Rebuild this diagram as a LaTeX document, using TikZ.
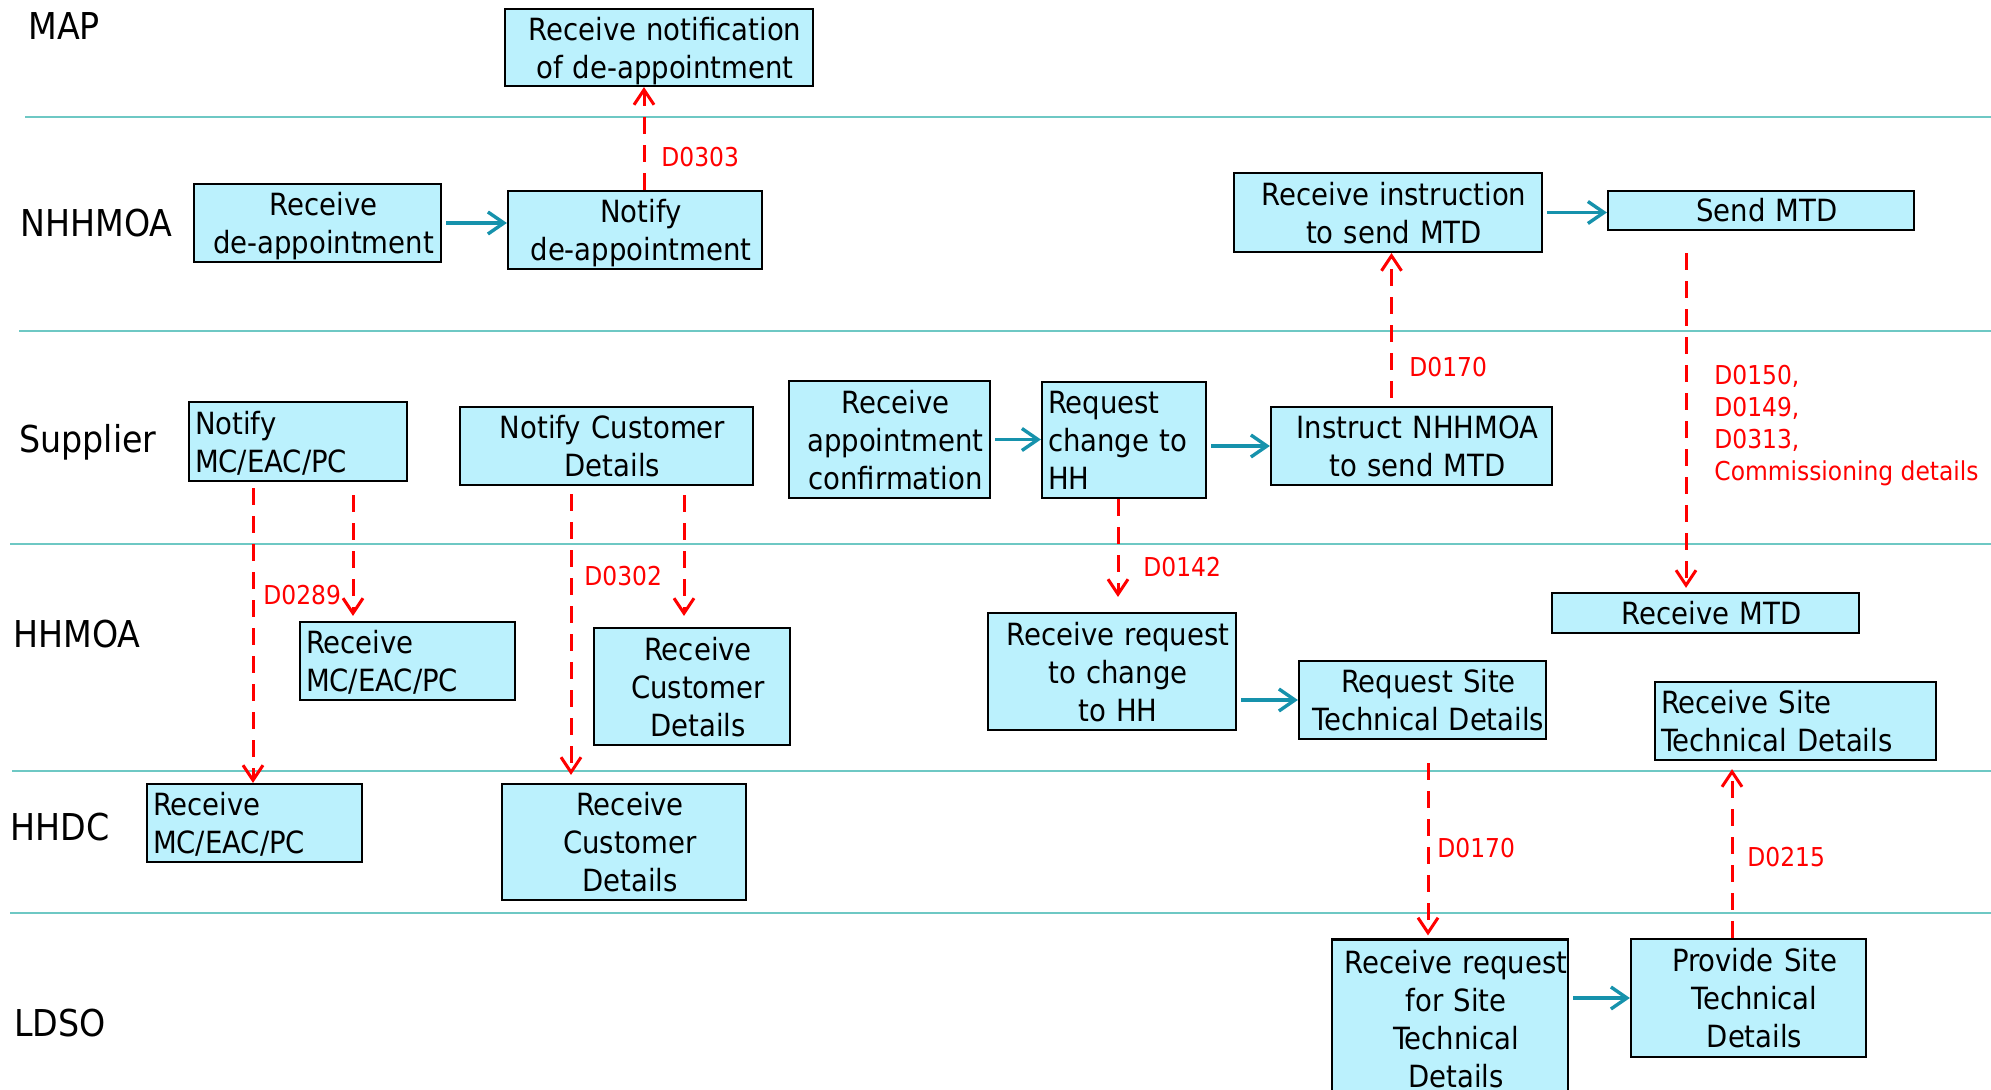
\documentclass[tikz,border=0pt]{standalone}
\usepackage{fontspec}
\setmainfont{DejaVu Sans Condensed}
\usepackage{tikz}
\usetikzlibrary{arrows.meta,positioning,calc}
\definecolor{actfill}{RGB}{187,241,253}
\definecolor{flowteal}{RGB}{22,146,172}
\definecolor{lanerule}{RGB}{110,200,196}

\begin{document}
\begin{tikzpicture}[x=0.5pt, y=-0.5pt]
\tikzstyle{box}=[draw=black, line width=1.1pt, fill=actfill, inner xsep=3pt, inner ysep=0pt, font=\fontsize{15.3}{19}\selectfont]
\tikzstyle{act}=[box, align=center, execute at begin node={\advance\leftskip 3pt\advance\rightskip -3pt}]
\tikzstyle{actl}=[box, align=left]
\tikzstyle{two}=[text depth=19pt]
\tikzstyle{three}=[text depth=38pt]
\tikzstyle{four}=[text depth=57pt]
\tikzstyle{lane}=[draw=lanerule, line width=1.2pt]
\tikzstyle{lanelbl}=[anchor=base west, inner sep=0pt, font=\fontsize{18.5}{22}\selectfont]
\tikzstyle{flow}=[-{Straight Barb[length=8pt,width=11pt]}, draw=flowteal, line width=1.7pt]
\tikzstyle{msg}=[-{Straight Barb[length=7.5pt,width=10pt]}, draw=red, line width=1.5pt, dash pattern=on 8.5pt off 5.5pt]
\tikzstyle{msglbl}=[text=red, inner sep=0pt, font=\fontsize{13}{16}\selectfont]

\useasboundingbox (0,0) rectangle (1991,1090);

\foreach \y/\x in {117/25, 331/19, 544/10, 771/12, 913/10}
{\draw[lane] (\x,\y) -- (1991,\y);}

\foreach \n/\x/\y in {MAP/28/40, NHHMOA/20/237, Supplier/19/453, HHMOA/13/647, HHDC/10/840, LDSO/14/1036}
{\node[lanelbl] (lane\n) at (\x,\y) {\n};}

\node[act, two, text width=148pt, minimum height=38.5pt] (rcvnotif) at (659,47.5) {Receive notification\\of de-appointment};
\node[act, two, text width=117.5pt, minimum height=39pt] (rcvdapp) at (317.5,223) {Receive\\de-appointment};
\node[act, two, text width=121pt, minimum height=39pt] (notdapp) at (635,230) {Notify\\de-appointment};
\node[act, two, text width=148pt, minimum height=39.5pt] (rcvinstr) at (1388,212.5) {Receive instruction\\to send MTD};
\node[act, text width=147pt, minimum height=19.5pt] (sendmtd) at (1761,210.5) {Send MTD};

\node[actl, two, text width=103pt, minimum height=39.5pt] (notmc) at (298,441.5) {Notify\\MC/EAC/PC};
\node[act, two, text width=140.5pt, minimum height=39pt] (notcust) at (606.5,446) {Notify Customer\\Details};
\node[act, three, text width=94.5pt, minimum height=58.5pt] (rcvappt) at (889.5,439.5) {Receive\\appointment\\confirmation};
\node[actl, three, text width=76pt, minimum height=58pt] (reqchg) at (1124,440) {Request\\change to\\HH};
\node[act, two, text width=134.5pt, minimum height=39pt] (instr) at (1411.5,446) {Instruct NHHMOA\\to send MTD};

\node[actl, two, text width=101.5pt, minimum height=39pt] (moamc) at (407.5,661) {Receive\\MC/EAC/PC};
\node[act, three, text width=92pt, minimum height=58.5pt] (moacust) at (692,686.5) {Receive\\Customer\\Details};
\node[act, three, text width=118pt, minimum height=58.5pt] (rcvchg) at (1112,671.5) {Receive request\\to change\\to HH};
\node[act, two, text width=117.5pt, minimum height=39pt] (reqsite) at (1422.5,700) {Request Site\\Technical Details};
\node[act, text width=147.5pt, minimum height=20pt] (rcvmtd) at (1705.5,613) {Receive MTD};
\node[actl, two, text width=134.5pt, minimum height=39pt] (rcvsite) at (1795.5,721) {Receive Site\\Technical Details};

\node[actl, two, text width=101.5pt, minimum height=39pt] (dcmc) at (254.5,823) {Receive\\MC/EAC/PC};
\node[act, three, text width=116pt, minimum height=58pt] (dccust) at (624,842) {Receive\\Customer\\Details};

\node[act, four, text width=112pt, minimum height=79pt] (ldsoreq) at (1450,1018.5) {Receive request\\for Site\\Technical\\Details};
\node[act, three, text width=111.5pt, minimum height=59pt] (provsite) at (1748.5,998) {Provide Site\\Technical\\Details};

\foreach \a/\b in {rcvdapp/notdapp, rcvinstr/sendmtd, rcvappt/reqchg}
{\draw[flow, shorten <=2pt] (\a.east) -- (\a.east -| \b.west);}
\foreach \a/\b in {reqchg/instr, rcvchg/reqsite, ldsoreq/provsite}
{\draw[flow, shorten <=2pt] (\a.east |- \b.west) -- (\b.west);}

\coordinate (m303) at ([xshift=4.5pt]notdapp.north);
\coordinate (m170a) at ([xshift=-10pt,yshift=4pt]instr.north);
\coordinate (mmtd) at ([xshift=-37.5pt,yshift=-11pt]sendmtd.south);
\coordinate (m289) at ([xshift=-22.5pt,yshift=-3pt]notmc.south);
\coordinate (mmc) at ([xshift=27.5pt,yshift=-6.5pt]notmc.south);
\coordinate (m302) at ([xshift=-17.75pt,yshift=-4pt]notcust.south);
\coordinate (mcust) at ([xshift=38.75pt,yshift=-4.5pt]notcust.south);
\coordinate (m142) at ([xshift=-3pt]reqchg.south);
\coordinate (m170b) at ([xshift=2.75pt,yshift=-11.5pt]reqsite.south);
\coordinate (m215) at ([xshift=-8.25pt]provsite.north);

\draw[msg] (m303) -- (m303 |- rcvnotif.south);
\draw[msg] (m170a) -- (m170a |- rcvinstr.south);
\draw[msg, shorten >=2pt] (mmtd) -- (mmtd |- rcvmtd.north);
\draw[msg] (m289) -- (m289 |- dcmc.north);
\draw[msg, shorten >=2.5pt] (mmc) -- (mmc |- moamc.north);
\draw[msg, shorten >=4pt] (m302) -- (m302 |- dccust.north);
\draw[msg, shorten >=5.5pt] (mcust) -- (mcust |- moacust.north);
\draw[msg, shorten >=7.5pt] (m142) -- (m142 |- rcvchg.north);
\draw[msg, shorten >=1.5pt] (m170b) -- (m170b |- ldsoreq.north);
\draw[msg, shorten >=4pt] (m215) -- (m215 |- rcvsite.south);

\node[msglbl, anchor=base west] (l303) at (661,167) {D0303};
\node[msglbl, anchor=base west] (l170a) at (1409,377) {D0170};
\node[msglbl, anchor=north west, align=left] (lmtd) at (1714,365) {D0150,\\D0149,\\D0313,\\Commissioning details};
\node[msglbl, anchor=base west] (l289) at (263,604) {D0289};
\node[msglbl, anchor=base west] (l302) at (584,586) {D0302};
\node[msglbl, anchor=base west] (l142) at (1143,576) {D0142};
\node[msglbl, anchor=base west] (l170b) at (1437,857) {D0170};
\node[msglbl, anchor=base west] (l215) at (1747,866) {D0215};
\end{tikzpicture}
\end{document}
